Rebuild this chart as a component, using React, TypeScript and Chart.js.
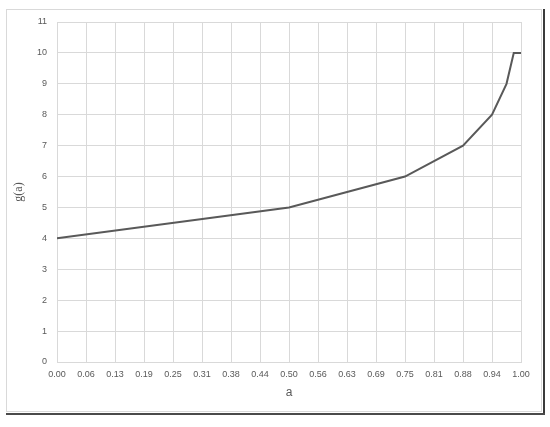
import React, { useEffect, useRef } from "react";
import { Chart, registerables } from "chart.js";

Chart.register(...registerables);

const aValues = [0, 0.5, 0.75, 0.875, 0.9375, 0.96875, 0.984375, 1];
const gValues = [4, 5, 6, 7, 8, 9, 10, 10];
const xTickStep = 0.0625;
const yTickStep = 1;
const xTitle = "a";
const yTitle = "g(a)";

export default function App() {
  const ref = useRef<HTMLCanvasElement>(null);

  useEffect(() => {
    if (!ref.current) return;
    const font = { family: "'Liberation Sans', Arial, sans-serif", size: 9 };
    const chart = new Chart(ref.current, {
      type: "scatter",
      data: {
        datasets: [
          {
            data: aValues.map((a, i) => ({ x: a, y: gValues[i] })),
            showLine: true,
            borderColor: "#595959",
            borderWidth: 2,
            pointRadius: 0,
            fill: false,
            tension: 0,
          },
        ],
      },
      options: {
        animation: false,
        responsive: false,
        maintainAspectRatio: false,
        layout: { padding: { left: 6, right: 29, top: 22, bottom: 27 } },
        plugins: { legend: { display: false }, tooltip: { enabled: false } },
        scales: {
          x: {
            type: "linear",
            min: 0,
            max: 1,
            afterBuildTicks: (scale: any) => {
              const t = [];
              for (let i = 0; i <= 16; i++) t.push({ value: i * xTickStep });
              scale.ticks = t;
            },
            afterFit: (scale: any) => {
              scale.height = 38;
            },
            ticks: {
              color: "#595959",
              font,
              padding: 7,
              maxRotation: 0,
              autoSkip: false,
              callback: (v: any) => Number(v).toFixed(2),
            },
            grid: { color: "#d9d9d9", drawTicks: false, lineWidth: 1 },
            border: { color: "#d9d9d9" },
            title: {
              display: true,
              text: xTitle,
              color: "#595959",
              font: { family: "'Liberation Sans', Arial, sans-serif", size: 12 },
              padding: { top: 0, bottom: 0 },
            },
          },
          y: {
            type: "linear",
            min: 0,
            max: 11,
            afterFit: (scale: any) => {
              scale.width = 51;
            },
            ticks: {
              stepSize: yTickStep,
              color: "#595959",
              font,
              padding: 10,
            },
            grid: { color: "#d9d9d9", drawTicks: false, lineWidth: 1 },
            border: { color: "#d9d9d9" },
            title: {
              display: true,
              text: yTitle,
              color: "#595959",
              font: { family: "'Liberation Serif', serif", size: 12 },
              padding: { top: 6, bottom: 0 },
            },
          },
        },
      },
    });
    return () => chart.destroy();
  }, []);

  return (
    <div style={{ position: "absolute", left: 0, top: 0, width: 550, height: 427, background: "#fff" }}>
      <div
        style={{
          position: "absolute",
          left: 6,
          top: 9,
          width: 536,
          height: 403,
          border: "1px solid #d9d9d9",
          boxSizing: "border-box",
        }}
      />
      <div style={{ position: "absolute", left: 543, top: 9, width: 2, height: 406, background: "#3a3a3a" }} />
      <div style={{ position: "absolute", left: 6, top: 413, width: 539, height: 2, background: "#4a4a4a" }} />
      <canvas
        ref={ref}
        width={550}
        height={427}
        style={{ position: "absolute", left: 0, top: 0, width: 550, height: 427 }}
      />
    </div>
  );
}
